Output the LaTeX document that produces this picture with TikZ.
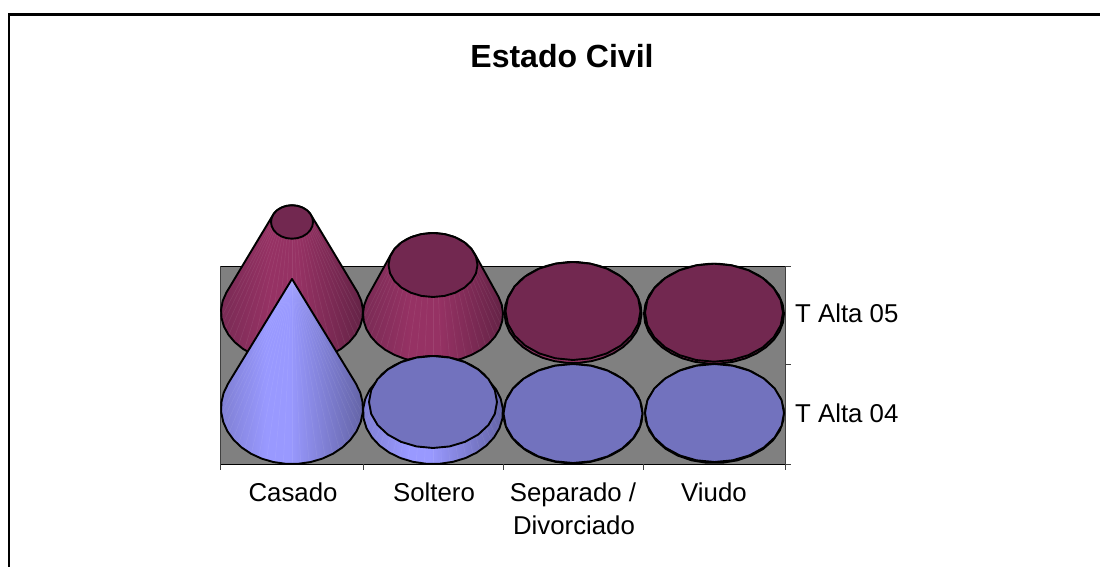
\documentclass[tikz,border=0pt]{standalone}
\usepackage{fontspec}
\setmainfont{Liberation Sans}

\definecolor{plumtop}{HTML}{722850}
\definecolor{bluetop}{HTML}{7272BE}
\definecolor{plumlow}{HTML}{7A2B55}
\definecolor{plumhigh}{HTML}{963264}
\definecolor{plumdark}{HTML}{642346}
\definecolor{bluelow}{HTML}{8080D4}
\definecolor{bluehigh}{HTML}{9999FF}
\definecolor{bluedark}{HTML}{6464A6}
\pgfdeclarehorizontalshading{plumside}{100bp}{color(0bp)=(plumlow); color(25bp)=(plumlow); color(42bp)=(plumhigh); color(52bp)=(plumhigh); color(75bp)=(plumdark); color(100bp)=(plumdark)}
\pgfdeclarehorizontalshading{blueside}{100bp}{color(0bp)=(bluelow); color(25bp)=(bluelow); color(41bp)=(bluehigh); color(49bp)=(bluehigh); color(75bp)=(bluedark); color(100bp)=(bluedark)}

\newcommand\barpart[9]{%
    \pgfmathsetmacro\ta{asin((#4-#7)/(#2-#5))}
    \pgfmathsetmacro\tb{180+\ta}
    \pgfmathsetmacro\tc{\ta-180}
    \def\sidepath{plot[domain=\tb:-\ta,samples=24] ({#1+#3*cos(\x)},{#2+#4*sin(\x)}) -- plot[domain=-\ta:\tc,samples=14] ({#1+#6*cos(\x)},{#5+#7*sin(\x)}) -- cycle}
    \shade[shading=#8] \sidepath;
    \begin{scope}
        \clip \sidepath;
        \foreach \a in {6,13,...,174}
            \draw[white,opacity=.08,line width=.5] ({#1+#6*cos(\a)},{#5+#7*sin(\a)}) -- ({#1+#3*cos(\a)},{#2+#4*sin(\a)});
    \end{scope}
    \draw[outline] \sidepath;
    \ifdim #6pt>0pt
        \filldraw[outline,fill=#9] plot[domain=0:345,samples=24] ({#1+#6*cos(\x)},{#5+#7*sin(\x)}) -- cycle;
    \fi
}

\tikzset{
    outline/.style={draw=black,line width=1.9,line join=round},
    axislabel/.style={anchor=base,inner sep=0,font=\fontsize{25.8}{30}\selectfont},
    sidelabel/.style={axislabel,anchor=base west},
    charttitle/.style={anchor=base,inner sep=0,font=\fontsize{32}{36}\selectfont\bfseries},
    tickline/.style={draw=black!75,line width=1}
}

\begin{document}
\begin{tikzpicture}[x=1pt,y=-1pt]
\useasboundingbox (0,0) rectangle (1100,567);
\draw[line width=2.2] (9,567) -- (9,14.5) -- (1100,14.5);

\node[charttitle] (title) at (562,68) {Estado Civil};

% plot area
\fill[black!50] (220.5,266) rectangle (785,464.3);
\draw[line width=.9] (220.5,266) -- (785,266);
\draw[line width=.9] (220.5,464.3) -- (785,464.3);
\draw[tickline] (220.5,266) -- (220.5,464.3);
\draw[tickline] (785,266) -- (785,470);

\foreach \i in {220.5,363,503,643,785}
    \draw[tickline] (\i,464.3) -- (\i,470);
\foreach \j in {266,364.5,464.3}
    \draw[tickline] (785,\j) -- (791,\j);

% upper row, then lower row
\foreach \cx/\by/\brx/\bry/\ty/\trx/\try/\side/\lid in {%
            292/312/71/51/222/21/16.7/plumside/plumtop,%
            433/314/70/49/265/44.5/32/plumside/plumtop,%
            573/313/68.5/50/311/67.5/49/plumside/plumtop,%
            714/314/70/49.7/312.7/69/49/plumside/plumtop,%
            292/408/71/56/279/0/0/blueside/bluetop,%
            433/412/70/52/402/64/46/blueside/bluetop,%
            573/413.8/69.5/49.6/413.5/69.5/49.5/blueside/bluetop,%
            714.5/413.6/69.5/49.5/413/69.5/49/blueside/bluetop%
            }
    \barpart{\cx}{\by}{\brx}{\bry}{\ty}{\trx}{\try}{\side}{\lid};

\node[axislabel] (casado) at (293,501.5) {Casado};
\node[axislabel] (soltero) at (434,501.5) {Soltero};
\node[axislabel] (separado) at (573,501.5) {Separado /};
\node[axislabel] (divorciado) at (574,534.5) {Divorciado};
\node[axislabel] (viudo) at (714,501.5) {Viudo};
\node[sidelabel] (alta05) at (795,322) {T Alta 05};
\node[sidelabel] (alta04) at (795,422) {T Alta 04};

\end{tikzpicture}
\end{document}
